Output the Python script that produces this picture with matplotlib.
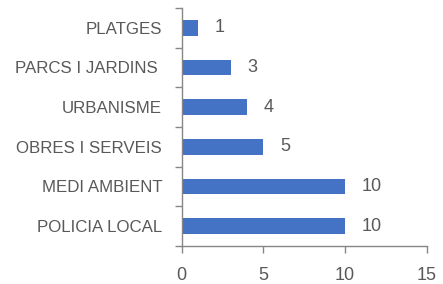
import matplotlib.pyplot as plt

categories = ["PLATGES", "PARCS I JARDINS ", "URBANISME", "OBRES I SERVEIS", "MEDI AMBIENT", "POLICIA LOCAL"]
values = [1, 3, 4, 5, 10, 10]
x_ticks = [0, 5, 10, 15]

text_color = "#595959"
axis_color = "#868686"
bar_color = "#4472C4"

plt.rcParams['font.family'] = ['Liberation Sans', 'DejaVu Sans']

fig = plt.figure(figsize=(4.43, 2.84), dpi=100)
ax = fig.add_axes([0.41, 0.134, 0.553, 0.838])

pos = list(range(len(categories)))
ax.barh(pos, values, height=0.4, color=bar_color)

for p, v in zip(pos, values):
    ax.annotate(str(v), (v, p), xytext=(12, 0), textcoords="offset points",
                va="center", ha="left", fontsize=13, color=text_color)

ax.set_ylim(len(categories) - 0.5, -0.5)
ax.set_xlim(0, 15)
ax.set_xticks(x_ticks)
ax.set_yticks(pos)
ax.set_yticklabels(categories)
ax.set_yticks([p - 0.5 for p in range(len(categories) + 1)], minor=True)

ax.tick_params(axis="y", which="major", length=0, pad=14, labelsize=12.2, labelcolor=text_color)
ax.tick_params(axis="y", which="minor", length=5, width=1, color=axis_color)
ax.tick_params(axis="x", length=5, width=1, color=axis_color, pad=10, labelsize=13, labelcolor=text_color)

for s in ["top", "right"]:
    ax.spines[s].set_visible(False)
for s in ["left", "bottom"]:
    ax.spines[s].set_color(axis_color)
    ax.spines[s].set_linewidth(1)

fig.savefig("out.png", dpi=100)
